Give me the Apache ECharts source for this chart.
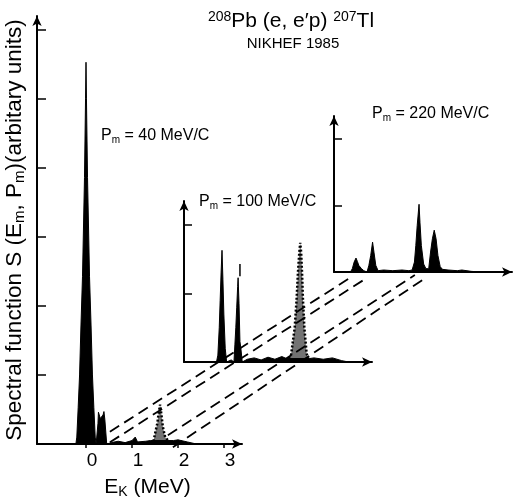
<!DOCTYPE html>
<html>
<head>
<meta charset="utf-8">
<script src="https://cdn.jsdelivr.net/npm/echarts@6/dist/echarts.min.js"></script>
<style>
  html, body { margin: 0; padding: 0; background: #fff; }
  #chart { width: 515px; height: 504px; }
</style>
</head>
<body>
<div id="chart"></div>
<script>
// spectra: E in MeV, S in arbitrary units (one unit = one y tick)
var mainE = [-0.22, -0.2, -0.17, -0.14, -0.11, -0.076, -0.033, -0.01, 0, 0.01, 0.033, 0.076, 0.11, 0.14, 0.17, 0.2, 0.22,
             0.25, 0.26, 0.27, 0.29, 0.31, 0.34, 0.37, 0.39, 0.41, 0.45,
             0.55, 0.7, 0.85, 1.0, 1.07, 1.12, 1.3, 1.4, 1.9, 2.0, 2.2, 2.4];
var mainS = [0, 0.1, 0.53, 1.0, 1.71, 2.43, 3.86, 5.0, 5.53, 5.0, 3.86, 2.43, 1.71, 1.0, 0.53, 0.1, 0,
             0, 0.3, 0.46, 0.44, 0.37, 0.36, 0.42, 0.47, 0.35, 0,
             0.02, 0.04, 0.02, 0.05, 0.1, 0.03, 0.04, 0.05, 0.05, 0.06, 0.03, 0];
var mainDotE = [1.4, 1.47, 1.5, 1.55, 1.58, 1.61, 1.64, 1.67, 1.72, 1.8, 1.9];
var mainDotS = [0, 0.05, 0.15, 0.3, 0.45, 0.57, 0.42, 0.25, 0.1, 0.04, 0];

var midE = [-0.12, -0.09, -0.06, -0.04, -0.02, 0, 0.02, 0.04, 0.07, 0.1, 0.2, 0.26,
            0.28, 0.3, 0.32, 0.34, 0.35, 0.37, 0.39, 0.41, 0.44,
            0.55, 0.7, 0.85, 1.0, 1.15, 1.3, 1.4, 1.9, 2.0, 2.2, 2.4, 2.6, 2.75];
var midS = [0, 0.1, 0.5, 0.9, 1.3, 1.63, 1.2, 0.7, 0.2, 0, 0.03, 0,
            0.25, 0.5, 0.8, 1.1, 1.23, 0.85, 0.3, 0.2, 0,
            0.04, 0.06, 0.03, 0.07, 0.04, 0.08, 0.05, 0.05, 0.06, 0.04, 0.06, 0.02, 0];
var midDotE = [1.4, 1.5, 1.58, 1.62, 1.65, 1.68, 1.7, 1.72, 1.74, 1.76, 1.79, 1.84, 1.9];
var midDotS = [0, 0.1, 0.5, 0.9, 1.3, 1.6, 1.74, 1.6, 1.3, 0.9, 0.5, 0.12, 0];
var midMarkE = [0.39, 0.39];
var midMarkS = [1.25, 1.43];

var highE = [-0.12, -0.08, -0.04, 0, 0.03, 0.06, 0.12, 0.17,
             0.24, 0.28, 0.32, 0.36, 0.39, 0.43, 0.48,
             0.6, 0.8, 1.0, 1.15,
             1.22, 1.27, 1.3, 1.33, 1.37, 1.39, 1.42, 1.47, 1.52,
             1.58, 1.62, 1.66, 1.7, 1.74, 1.78, 1.83, 1.88,
             2.0, 2.2, 2.3, 2.5, 2.7];
var highS = [0, 0.05, 0.15, 0.21, 0.16, 0.1, 0.05, 0.02,
             0, 0.1, 0.25, 0.45, 0.3, 0.1, 0.02,
             0.03, 0.02, 0.03, 0.02,
             0.03, 0.15, 0.4, 0.7, 1.02, 0.75, 0.4, 0.12, 0.05,
             0.05, 0.3, 0.5, 0.63, 0.5, 0.25, 0.08, 0.04,
             0.03, 0.02, 0.03, 0.01, 0];

// dashed guide lines, in the coordinates of the 40 MeV/C panel
var guideE = [[0.52, 5.74], [0.52, 6.11], [1.78, 7.15], [1.89, 7.41]];
var guideS = [[0.26, 2.46], [0.11, 2.46], [0.21, 2.5], [0.04, 2.47]];

var xTicks = [0, 1, 2, 3];
var mainYTicks = [1, 2, 3, 4, 5, 6];
var panelYTicks = [1, 2];

var FONT = '"Liberation Sans", Arial, Helvetica, sans-serif';

function pairs(xs, ys) {
    var out = [];
    for (var i = 0; i < xs.length; i++) out.push([xs[i], ys[i]]);
    return out;
}

var arrowLine = { onZero: false, lineStyle: { color: '#000', width: 2 }, symbol: ['none', 'arrow'], symbolSize: [7, 10] };

function hiddenX(idx, min, max) {
    return {
        type: 'value', gridIndex: idx, min: min, max: max, axisLine: arrowLine,
        axisTick: { show: false }, axisLabel: { show: false }, splitLine: { show: false }
    };
}

function panelY(idx, max, ticks) {
    return {
        type: 'value', gridIndex: idx, min: 0, max: max, axisLine: arrowLine,
        axisTick: { inside: true, length: 8, customValues: ticks, lineStyle: { color: '#000', width: 1.5 } },
        axisLabel: { show: false }, splitLine: { show: false }
    };
}

function filled(idx, xs, ys) {
    return {
        type: 'line', xAxisIndex: idx, yAxisIndex: idx, data: pairs(xs, ys),
        symbol: 'none', silent: true,
        lineStyle: { color: '#000', width: 1 },
        areaStyle: { color: '#000', opacity: 1 }
    };
}

function dotted(idx, xs, ys) {
    return {
        type: 'line', xAxisIndex: idx, yAxisIndex: idx, data: pairs(xs, ys),
        symbol: 'none', silent: true,
        lineStyle: { color: '#000', width: 2.5, type: [2, 2] },
        areaStyle: { color: '#000', opacity: 0.55 }
    };
}

var series = [
    filled(0, mainE, mainS), dotted(0, mainDotE, mainDotS),
    filled(1, midE, midS), dotted(1, midDotE, midDotS),
    {
        type: 'line', xAxisIndex: 1, yAxisIndex: 1, data: pairs(midMarkE, midMarkS),
        symbol: 'none', silent: true, lineStyle: { color: '#000', width: 1.5 }
    },
    filled(2, highE, highS)
];

// overlay grid 3 uses the same scale as the 40 MeV/C panel, stretched over the whole figure
for (var g = 0; g < guideE.length; g++) {
    series.push({
        type: 'line', xAxisIndex: 3, yAxisIndex: 3,
        data: pairs(guideE[g], guideS[g]),
        symbol: 'none', silent: true, z: 1,
        lineStyle: { color: '#000', width: 1.8, type: [11, 6] }
    });
}

function label(x, y, str) {
    return {
        type: 'text', x: x, y: y, silent: true,
        style: {
            text: str, fontFamily: FONT, fontSize: 16, fill: '#000',
            rich: { sub: { fontFamily: FONT, fontSize: 10, padding: [9, 0, 0, 0] } }
        }
    };
}

var chart = echarts.init(document.getElementById('chart'));

chart.setOption({
    backgroundColor: '#fff',
    animation: false,
    textStyle: { fontFamily: FONT, color: '#000' },
    grid: [
        { left: 37, top: 16, width: 205, height: 434 },
        { left: 184, top: 201, width: 188, height: 161 },
        { left: 334, top: 116, width: 178, height: 156 },
        { left: 0, top: 0, width: 515, height: 450 }
    ],
    xAxis: [
        {
            type: 'value', gridIndex: 0, min: -1.065, max: 3.39, axisLine: arrowLine,
            axisTick: { length: 4, customValues: xTicks, lineStyle: { color: '#000', width: 1.5 } },
            axisLabel: {
                customValues: xTicks, fontFamily: FONT, fontSize: 19, color: '#000',
                margin: 7, padding: [0, 0, 0, 12]
            },
            splitLine: { show: false },
            name: 'E{sub|K} (MeV)', nameLocation: 'middle', nameGap: 32,
            nameTextStyle: {
                fontFamily: FONT, fontSize: 21, color: '#000', padding: [0, 0, 0, 16],
                rich: { sub: { fontFamily: FONT, fontSize: 14, padding: [9, 0, 0, 0] } }
            }
        },
        hiddenX(1, -0.826, 3.26),
        hiddenX(2, -0.478, 3.39),
        { type: 'value', gridIndex: 3, min: -1.869, max: 9.327, show: false }
    ],
    yAxis: [
        {
            type: 'value', gridIndex: 0, min: 0, max: 6.2, axisLine: arrowLine,
            axisTick: { inside: true, length: 9, customValues: mainYTicks, lineStyle: { color: '#000', width: 1.5 } },
            axisLabel: { show: false }, splitLine: { show: false },
            name: 'Spectral function S (E{sub|m}, P{sub|m})(arbitary units)',
            nameLocation: 'middle', nameRotate: 90, nameGap: 10,
            nameTextStyle: {
                fontFamily: FONT, fontSize: 22.5, color: '#000',
                rich: { sub: { fontFamily: FONT, fontSize: 15, padding: [9, 0, 0, 0] } }
            }
        },
        panelY(1, 2.35, panelYTicks),
        panelY(2, 2.35, panelYTicks),
        { type: 'value', gridIndex: 3, min: 0, max: 6.4286, show: false }
    ],
    series: series,
    graphic: [
        {
            type: 'text', x: 291, y: 10, silent: true,
            style: {
                text: '{sup|208}Pb (e, e\u2032p) {sup|207}Tl', fontFamily: FONT, fontSize: 21, fill: '#000',
                align: 'center', textAlign: 'center',
                rich: { sup: { fontFamily: FONT, fontSize: 14, padding: [0, 0, 9, 0] } }
            }
        },
        {
            type: 'text', x: 293, y: 36, silent: true,
            style: { text: 'NIKHEF 1985', fontFamily: FONT, fontSize: 15, fill: '#000', align: 'center', textAlign: 'center' }
        },
        label(101, 126, 'P{sub|m} = 40 MeV/C'),
        label(199, 192, 'P{sub|m} = 100 MeV/C'),
        label(372, 104, 'P{sub|m} = 220 MeV/C')
    ]
});
</script>
</body>
</html>
